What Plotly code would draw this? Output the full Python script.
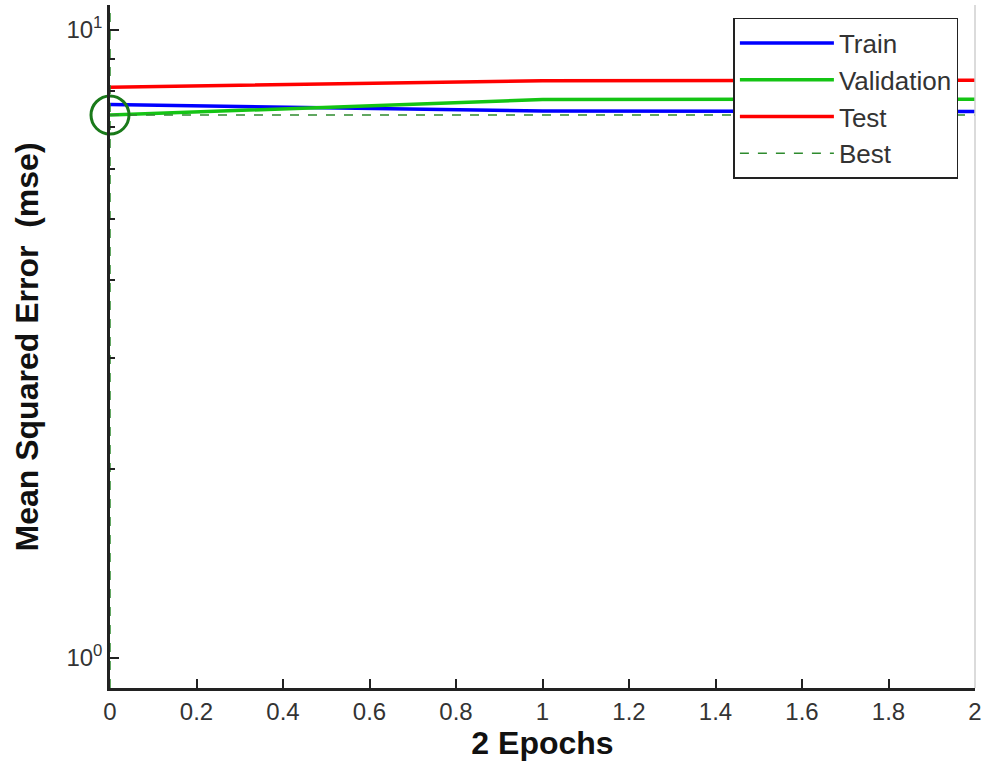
import plotly.graph_objects as go
import math

# ---- data ----
epochs = [0, 1, 2]
train_mse = [7.61, 7.43, 7.42]
validation_mse = [7.32, 7.75, 7.76]
test_mse = [8.11, 8.30, 8.32]
best_epoch = 0
best_mse = 7.32
x_ticks = [0, 0.2, 0.4, 0.6, 0.8, 1, 1.2, 1.4, 1.6, 1.8, 2]
x_tick_labels = ["0", "0.2", "0.4", "0.6", "0.8", "1", "1.2", "1.4", "1.6", "1.8", "2"]
y_ticks = [1, 10]
y_tick_labels = ["10<sup>0</sup>", "10<sup>1</sup>"]
y_minor = [2, 3, 4, 5, 6, 7, 8, 9]
y_lo, y_hi = 0.896, 10.96

FONT = "Liberation Sans, Arial, sans-serif"
BLUE = "#0000ff"
GREEN = "#14c414"
RED = "#ff0000"
BEST = "#2e8b2e"

fig = go.Figure()
fig.add_trace(go.Scatter(x=epochs, y=train_mse, mode="lines", name="Train",
                         line=dict(color=BLUE, width=3.5), legendgroup="a"))
fig.add_trace(go.Scatter(x=epochs, y=validation_mse, mode="lines", name="Validation",
                         line=dict(color=GREEN, width=3.5), legendgroup="b"))
fig.add_trace(go.Scatter(x=epochs, y=test_mse, mode="lines", name="Test",
                         line=dict(color=RED, width=3.5), legendgroup="c"))
fig.add_trace(go.Scatter(x=[epochs[0], epochs[-1]], y=[best_mse, best_mse], mode="lines",
                         name="Best", line=dict(color=BEST, width=1.5, dash="dash"),
                         legendgroup="d"))
# vertical best line
fig.add_trace(go.Scatter(x=[best_epoch, best_epoch], y=[y_lo, y_hi], mode="lines",
                         showlegend=False, line=dict(color=BEST, width=1.5, dash="dash")))
# best circle
fig.add_trace(go.Scatter(x=[best_epoch], y=[best_mse], mode="markers", showlegend=False,
                         cliponaxis=False,
                         marker=dict(symbol="circle-open", size=38, color="#1a7a1a",
                                     line=dict(color="#1a7a1a", width=3))))

# right faint border
fig.add_shape(type="line", xref="paper", yref="paper", x0=1, x1=1, y0=0, y1=1,
              line=dict(color="#cfcfcf", width=1.5))

fig.update_layout(
    width=987, height=767,
    margin=dict(l=110, r=7, t=5, b=79),
    paper_bgcolor="white", plot_bgcolor="white",
    font=dict(family=FONT, color="#222"),
    showlegend=True,
    legend=dict(x=0.7207, y=0.981, xanchor="left", yanchor="top",
                bgcolor="white", bordercolor="#222", borderwidth=1.5,
                font=dict(family=FONT, size=26, color="#333"),
                traceorder="grouped", tracegroupgap=0, itemwidth=94),
    annotations=[dict(text="<b>Mean Squared Error  (mse)</b>", textangle=-90,
                      xref="paper", yref="paper", x=-0.096, y=0.5,
                      xanchor="center", yanchor="middle", showarrow=False,
                      font=dict(family=FONT, size=32, color="#111"))],
)
fig.update_xaxes(range=[0, 2], tickvals=x_ticks, ticktext=x_tick_labels,
                 ticks="inside", ticklen=9, tickwidth=2, tickcolor="#222",
                 showline=True, linecolor="#222", linewidth=2.5,
                 showgrid=False, zeroline=False,
                 tickfont=dict(family=FONT, size=24, color="#333"),
                 title=dict(text="<b>2 Epochs</b>", standoff=6,
                            font=dict(family=FONT, size=32, color="#111")))
fig.update_yaxes(type="log", range=[math.log10(y_lo), math.log10(y_hi)],
                 tickvals=y_ticks, ticktext=y_tick_labels,
                 ticks="inside", ticklen=9, tickwidth=2, tickcolor="#222",
                 minor=dict(tickvals=y_minor, ticks="inside", ticklen=5,
                            tickwidth=1.5, tickcolor="#222", showgrid=False),
                 showline=True, linecolor="#222", linewidth=2.5,
                 showgrid=False, zeroline=False,
                 tickfont=dict(family=FONT, size=24, color="#333"))

fig.write_html("out.html", config={"displayModeBar": False},
               post_script="document.body.style.margin='0';"
                           "document.body.style.overflow='hidden';"
                           "document.documentElement.style.overflow='hidden';")
